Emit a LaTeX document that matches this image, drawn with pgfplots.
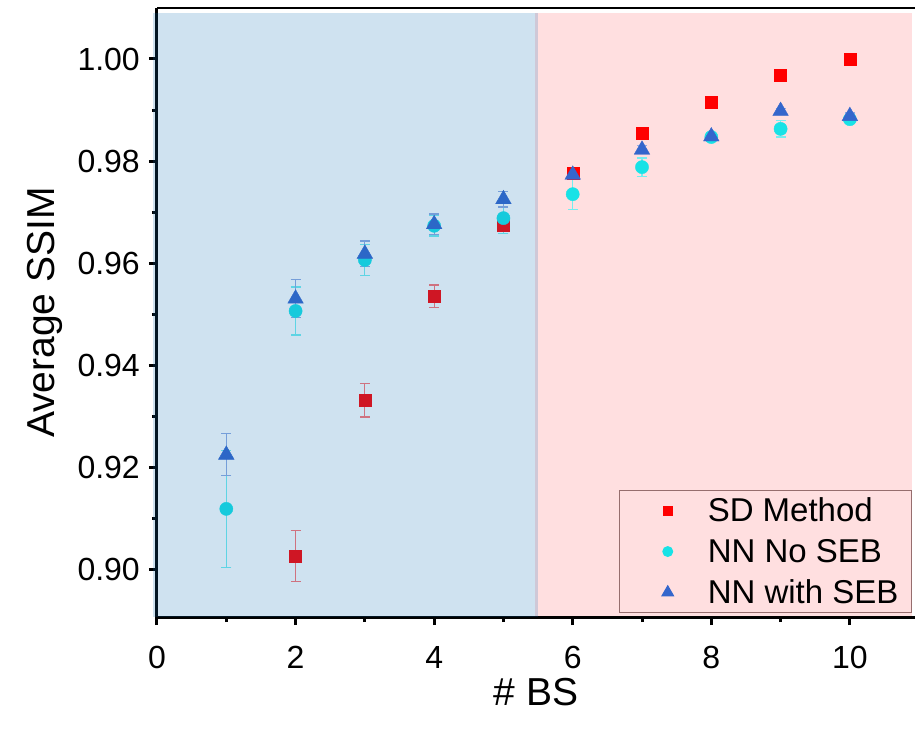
\documentclass[border=0pt]{standalone}
\usepackage{fontspec}
\setmainfont{Liberation Sans}
\usepackage{pgfplots}
\pgfplotsset{compat=1.18}

\definecolor{sdred}{RGB}{255,0,0}
\definecolor{nncyan}{RGB}{24,226,230}
\definecolor{nnblue}{RGB}{52,102,204}
\definecolor{pinkbg}{RGB}{255,223,224}
\definecolor{blueov}{RGB}{15,110,180}
\definecolor{legborder}{RGB}{150,110,110}

\pgfplotstableread{
x y e
2 0.9025 0.0050
3 0.9331 0.0033
4 0.9535 0.0022
5 0.9675 0.0017
6 0.9777 0.0005
7 0.9854 0.0004
8 0.9916 0.0003
9 0.9969 0.0003
10 1.0000 0.0002
}\sdtable

\pgfplotstableread{
x y e
1 0.9118 0.0115
2 0.9506 0.0047
3 0.9606 0.0030
4 0.9673 0.0020
5 0.9688 0.0030
6 0.9735 0.0030
7 0.9788 0.0018
8 0.9847 0.0008
9 0.9863 0.0016
10 0.9882 0.0008
}\noseb

\pgfplotstableread{
x y e
1 0.9224 0.0041
2 0.9530 0.0037
3 0.9618 0.0025
4 0.9676 0.0020
5 0.9725 0.0015
6 0.9773 0.0010
7 0.9822 0.0008
8 0.9848 0.0006
9 0.9898 0.0005
10 0.9888 0.0006
}\withseb

\begin{document}
\begin{tikzpicture}
\begin{axis}[
    name=ax,
    set layers,
    scale only axis,
    width=758pt, height=609pt,
    xmin=0, xmax=10.94,
    ymin=0.8906, ymax=1.010,
    axis x line*=bottom, axis y line*=left,
    axis line style={line width=3pt, black, -},
    xtick={0,2,...,10},
    ytick={0.90,0.92,...,1.00},
    minor x tick num=1, minor y tick num=1,
    tick align=outside,
    major tick length=8pt, minor tick length=5pt,
    every tick/.style={line width=3pt, black},
    /pgf/number format/assume math mode=true,
    yticklabel style={/pgf/number format/fixed, /pgf/number format/fixed zerofill,
        /pgf/number format/precision=2},
    tick label style={font=\fontsize{32}{38}\selectfont},
    xticklabel style={anchor=base, yshift=-43pt},
    yticklabel style={anchor=east, inner sep=0pt, xshift=-9pt},
    xlabel={\# BS},
    ylabel={Average SSIM},
    label style={font=\fontsize{39}{46}\selectfont},
    xlabel style={at={(rel axis cs:0.5,0)}, anchor=base, yshift=-88pt},
    ylabel style={at={(rel axis cs:0,0.5)}, anchor=center, yshift=112pt},
    legend style={at={(rel axis cs:0.996,0.007)}, anchor=south east,
        fill=pinkbg, draw=legborder, line width=1pt,
        font=\fontsize{33}{40}\selectfont, row sep=12pt,
        inner xsep=11pt, inner ysep=5pt},
    legend cell align=left,
    legend image code/.code={
        \path[draw=none, fill=none] (-37pt,-8pt) rectangle (38pt,8pt);
        \draw[#1, mark options={scale=0.75}] plot coordinates {(0pt,0pt)};},
]
% pink region behind the data
\begin{pgfonlayer}{axis background}
\fill[pinkbg] (axis cs:5.46,0.8906) rectangle (axis cs:10.9,1.009);
\end{pgfonlayer}

\addplot[only marks, mark=square*, mark size=6pt, color=sdred,
    error bars/.cd, y dir=both, y explicit,
    error bar style={line width=1.2pt, color=sdred!55!white},
    error mark options={rotate=90, mark size=5pt, line width=1.2pt, color=sdred!55!white}]
    table[x=x, y=y, y error=e]{\sdtable};
\addlegendentry{SD Method}

\addplot[only marks, mark=*, mark size=6.6pt, color=nncyan,
    error bars/.cd, y dir=both, y explicit,
    error bar style={line width=1.2pt, color=nncyan!60!white},
    error mark options={rotate=90, mark size=5pt, line width=1.2pt, color=nncyan!60!white}]
    table[x=x, y=y, y error=e]{\noseb};
\addlegendentry{NN No SEB}

\addplot[only marks, mark=triangle*, mark size=9pt, color=nnblue,
    error bars/.cd, y dir=both, y explicit,
    error bar style={line width=1.2pt, color=nnblue!55!white},
    error mark options={rotate=90, mark size=5pt, line width=1.2pt, color=nnblue!55!white}]
    table[x=x, y=y, y error=e]{\withseb};
\addlegendentry{NN with SEB}

% translucent blue region over the data
\begin{pgfonlayer}{axis foreground}
\fill[blueov, opacity=0.2] (axis cs:-0.06,0.8906) rectangle (axis cs:5.5,1.009);
\end{pgfonlayer}

% top spine
\draw[line width=3pt, black] (rel axis cs:0,1) -- (rel axis cs:1,1);
\end{axis}
\pgfresetboundingbox
\path ([xshift=-157pt, yshift=-114pt]ax.south west) rectangle ([yshift=8pt]ax.north east);
\end{tikzpicture}
\end{document}
